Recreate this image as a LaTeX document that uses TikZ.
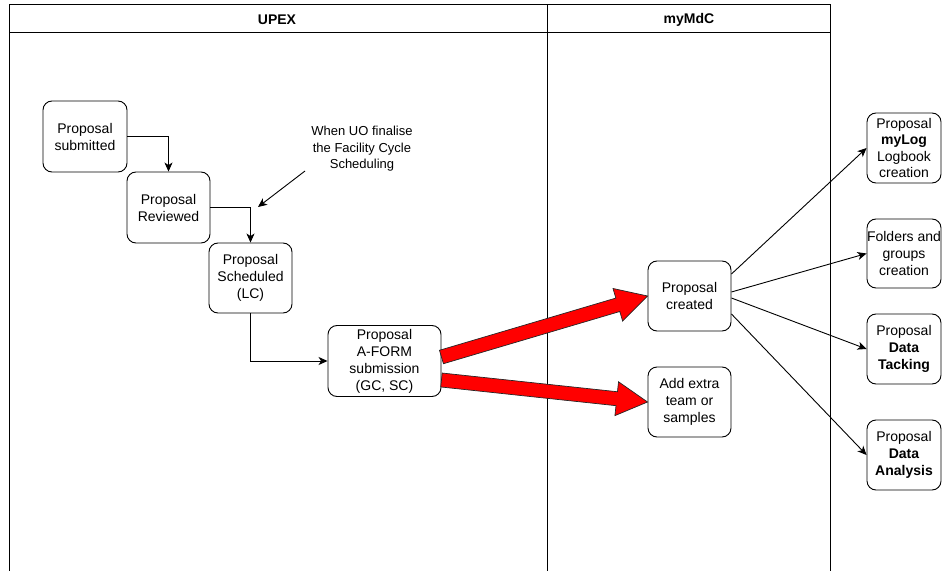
\documentclass[tikz,border=0pt]{standalone}
\usepackage{fontspec}
\setmainfont{Liberation Sans}
\usetikzlibrary{arrows.meta,calc}
\tikzset{
  box/.style={draw=black, line width=0.9bp, rounded corners=9bp, align=center, inner sep=0pt,
    font=\fontsize{14bp}{17bp}\selectfont},
  frame/.style={draw=black, line width=1bp},
  conn/.style={draw=black, line width=0.9bp, -{Stealth[length=9bp,width=8bp,inset=2.5bp]}},
  headtxt/.style={font=\fontsize{14bp}{17bp}\selectfont\bfseries},
  notetxt/.style={align=center, inner sep=0pt, font=\fontsize{13bp}{16.5bp}\selectfont},
  flex/.style={fill=red, draw=black!85, line width=0.7bp, line join=miter}
}
\newcommand\flexarrow[2]{%
  \coordinate (hb) at ($(#2)!31bp!(#1)$);
  \path[flex] ($(#1)!7bp!90:(#2)$) -- ($(hb)!7bp!-90:(#1)$) -- ($(hb)!17bp!-90:(#1)$) -- (#2)
    -- ($(hb)!17bp!90:(#1)$) -- ($(hb)!7bp!90:(#1)$) -- ($(#1)!7bp!-90:(#2)$) -- cycle;
}
\begin{document}
\begin{tikzpicture}[x=1bp,y=-1bp]
\useasboundingbox (0,0) rectangle (942,571);
% pool frame
\draw[frame] (9,571) -- (9,5) -- (830,5) -- (830,571);
\draw[frame] (9,33) -- (830,33);
\draw[frame] (547,5) -- (547,571);
\node[headtxt] (upex) at (277,20) {UPEX};
\node[headtxt] (mymdc) at (689,20) {myMdC};
% nodes
\node[box, minimum width=84bp, minimum height=71bp] (sub) at (85,136.5) {Proposal\\submitted};
\node[box, minimum width=83bp, minimum height=71bp] (rev) at (168.5,207.5) {Proposal\\Reviewed};
\node[box, minimum width=83bp, minimum height=70bp] (sch) at (250.5,278) {Proposal\\Scheduled\\(LC)};
\node[box, minimum width=113bp, minimum height=71bp] (aform) at (384.5,361) {Proposal\\A-FORM\\submission\\(GC, SC)};
\node[box, minimum width=83bp, minimum height=70bp] (created) at (689.5,296) {Proposal\\created};
\node[box, minimum width=83bp, minimum height=70bp] (extra) at (689.5,402) {Add extra\\team or\\samples};
\node[box, minimum width=74bp, minimum height=70bp, font=\fontsize{14bp}{16.5bp}\selectfont] (mylog) at (904,148) {Proposal\\\textbf{myLog}\\Logbook\\creation};
\node[box, minimum width=74bp, minimum height=69bp] (folders) at (904,253.5) {Folders and\\groups\\creation};
\node[box, minimum width=74bp, minimum height=70bp] (tack) at (904,349) {Proposal\\\textbf{Data}\\\textbf{Tacking}};
\node[box, minimum width=74bp, minimum height=70bp] (anal) at (904,455) {Proposal\\\textbf{Data}\\\textbf{Analysis}};
% annotation
\node[notetxt] (note) at (362,149) {When UO finalise\\the Facility Cycle\\Scheduling};
\coordinate (noteA) at (305,171);
\coordinate (noteB) at (258,207);
\draw[conn] (noteA) -- (noteB);
% orthogonal flow
\draw[conn] (sub.east) -| (rev.north);
\draw[conn] (rev.east) -| (sch.north);
\draw[conn] (sch.south) |- (aform.west);
% red flex arrows
\coordinate (s1) at ($(aform.east)+(0,-4)$);
\coordinate (t1) at (created.west);
\coordinate (s2) at ($(aform.east)+(0,19)$);
\coordinate (t2) at (extra.west);
\flexarrow{s1}{t1}
\flexarrow{s2}{t2}
% fan out
\draw[conn] ($(created.east)+(0,-22)$) -- (mylog.west);
\draw[conn] ($(created.east)+(0,-4)$) -- (folders.west);
\draw[conn] ($(created.east)+(0,2)$) -- (tack.west);
\draw[conn] ($(created.east)+(0,18)$) -- (anal.west);
\end{tikzpicture}
\end{document}
